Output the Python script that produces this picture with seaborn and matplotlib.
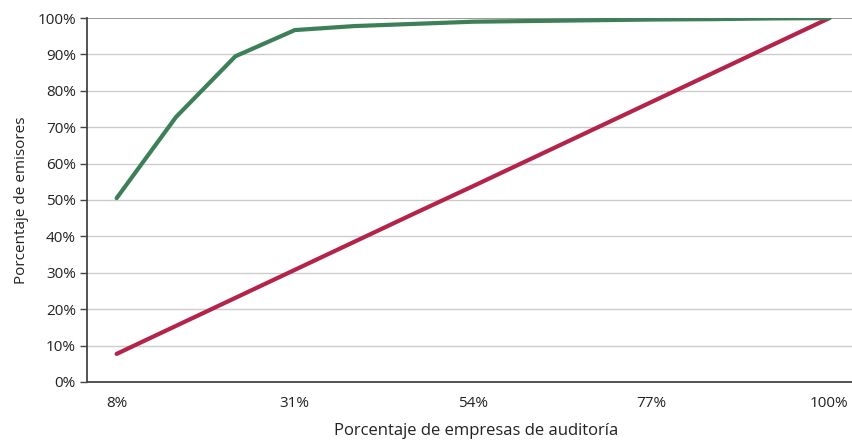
import numpy as np
import pandas as pd
import matplotlib
matplotlib.use("Agg")
import matplotlib.pyplot as plt
import seaborn as sns

# share of audit firms (13 firms) and cumulative share of issuers
firm_labels = ["8%", "15%", "23%", "31%", "38%", "46%", "54%",
               "62%", "69%", "77%", "85%", "92%", "100%"]
issuers_cum = [50.5, 72.8, 89.5, 96.7, 97.8, 98.4, 99.0,
               99.2, 99.4, 99.6, 99.7, 99.9, 100.0]
firms_cum = [7.7, 15.4, 23.1, 30.8, 38.5, 46.2, 53.8,
             61.5, 69.2, 76.9, 84.6, 92.3, 100.0]

df = pd.DataFrame({"firma": firm_labels, "emisores": issuers_cum, "equidad": firms_cum})
df["pos"] = np.arange(len(df))

sns.set_style("white")
plt.rcParams["font.family"] = ["Open Sans", "DejaVu Sans"]

fig = plt.figure(figsize=(8.52, 4.41), dpi=100)
ax = fig.add_axes([0.102, 0.134, 0.898, 0.825])

# gridlines
for v in range(10, 100, 10):
    ax.axhline(v, color="#cccccc", lw=1, zorder=0)
ax.axhline(100, color="#888888", lw=1.2, zorder=0)

sns.lineplot(data=df, x="pos", y="equidad", color="#b3234a", lw=3, ax=ax)
sns.lineplot(data=df, x="pos", y="emisores", color="#3d7f57", lw=3, ax=ax)

ax.set_yticks(range(0, 101, 10))
ax.set_yticklabels([f"{v}%" for v in range(0, 101, 10)], fontsize=11, color="#222222")

pos = list(range(0, 13, 3))
ax.set_xticks(pos)
ax.set_xticklabels([firm_labels[i] for i in pos], fontsize=11, color="#222222")
ax.set_xticks(np.arange(-0.5, 12.4, 1), minor=True)
# limits after ticks, set_xticks widens the view
ax.set_ylim(0, 100)
ax.set_xlim(-0.5, 12.38)
ax.tick_params(axis="x", which="major", length=0, pad=10)
ax.tick_params(axis="x", which="minor", length=4, width=1, color="#444444", direction="out")
ax.tick_params(axis="y", length=5, width=1, color="#444444", direction="out", pad=3, left=True)

for s in ["top", "right"]:
    ax.spines[s].set_visible(False)
ax.spines["left"].set_color("#444444")
ax.spines["left"].set_linewidth(1.3)
ax.spines["bottom"].set_color("#444444")
ax.spines["bottom"].set_linewidth(1.3)

ax.set_xlabel("Porcentaje de empresas de auditoría", fontsize=12, color="#222222")
ax.xaxis.set_label_coords(0.509, -0.113)
ax.set_ylabel("Porcentaje de emisores", fontsize=11, color="#222222", labelpad=6)

fig.savefig("out.png", dpi=100)
